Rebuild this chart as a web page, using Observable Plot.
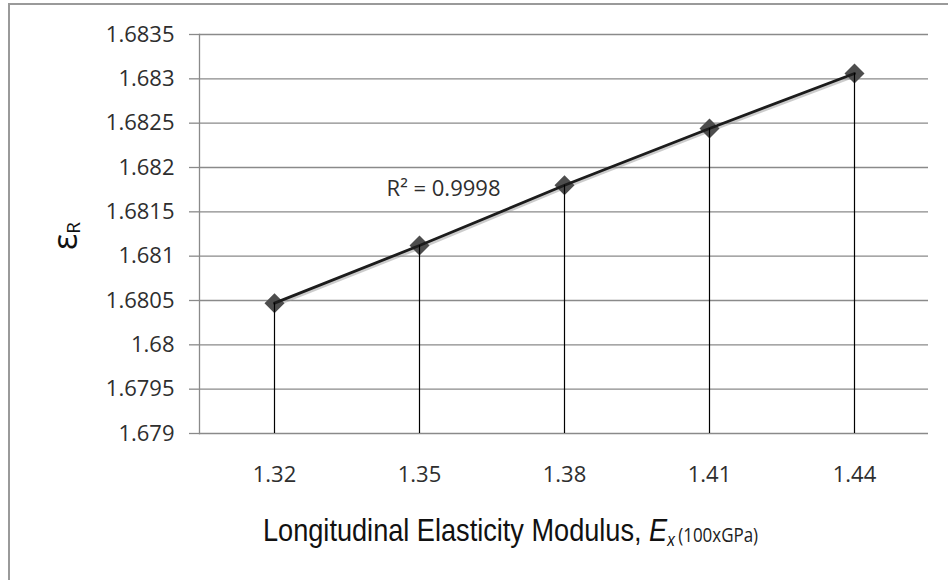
<!DOCTYPE html>
<html>
<head>
<meta charset="utf-8">
<script src="https://cdn.jsdelivr.net/npm/d3@7"></script>
<script src="https://cdn.jsdelivr.net/npm/@observablehq/plot@0.6"></script>
<style>
  html, body { margin: 0; padding: 0; background: #fff; overflow: hidden; }
  #wrap { position: relative; width: 948px; height: 580px; }
  #border { position: absolute; left: 8px; top: 3px; width: 1000px; height: 700px;
            border-left: 2px solid #9a9a9a; border-top: 2px solid #9a9a9a; box-sizing: border-box; }
  #chart { position: absolute; left: 0; top: 0; }
</style>
</head>
<body>
<div id="wrap"><div id="border"></div><div id="chart"></div></div>
<script>
// ---- data ----
const xCategories = ["1.32", "1.35", "1.38", "1.41", "1.44"];
const epsR = [1.68047, 1.68112, 1.68180, 1.68244, 1.68306];
const yTicks = [1.679, 1.6795, 1.68, 1.6805, 1.681, 1.6815, 1.682, 1.6825, 1.683, 1.6835];
const r2Label = "R\u00B2 = 0.9998";
const xTitleMain = "Longitudinal Elasticity Modulus, ";
const xTitleVar = "E";
const xTitleSub = "x";
const xTitleUnit = "(100xGPa)";
const yTitle = "\u03B5";
const yTitleSub = "R";

const data = xCategories.map((c, i) => ({x: c, y: epsR[i]}));
const yMin = yTicks[0], yMax = yTicks[yTicks.length - 1];

const font = "'Open Sans', 'Noto Sans', sans-serif";

const plot = Plot.plot({
  width: 948,
  height: 580,
  marginLeft: 199,
  marginRight: 20,
  marginTop: 34,
  marginBottom: 147,
  style: {fontFamily: font, fontSize: "22px", color: "#333", background: "transparent"},
  x: {type: "point", domain: xCategories, padding: 0.5},
  y: {domain: [yMin, yMax]},
  marks: [
    Plot.gridY(yTicks, {stroke: "#8a8a8a", strokeOpacity: 1, strokeWidth: 1.3}),
    Plot.frame({anchor: "left", stroke: "#8a8a8a", strokeWidth: 1.3}),
    Plot.axisY(yTicks, {tickSize: 10, tickPadding: 15, stroke: "#8a8a8a", strokeWidth: 1.3,
      tickFormat: d => String(d), fill: "#2e2e2e", fontSize: 22, label: null}),
    Plot.axisX({tickSize: 0, tickPadding: 33, fill: "#2e2e2e", fontSize: 22, label: null}),
    Plot.line(data, {x: "x", y: "y", stroke: "#9a9a9a", strokeWidth: 4, strokeOpacity: 0.5, dx: 1, dy: 1.5}),
    Plot.dot(data, {x: "x", y: "y", symbol: "diamond2", r: 9, fill: "#4d4d4d", stroke: "none"}),
    Plot.line(data, {x: "x", y: "y", stroke: "#1c1c1c", strokeWidth: 2.8}),
    Plot.ruleX(data, {x: "x", y1: yMin, y2: "y", stroke: "#000", strokeWidth: 1.2}),
    Plot.text([r2Label], {x: () => "1.35", y: () => 1.68176, dx: 24, text: d => d,
      fontSize: 22, fill: "#2e2e2e", textAnchor: "middle"})
  ]
});

document.getElementById("chart").appendChild(plot);

const svg = d3.select(plot);
// x-axis title as one text with tspans, scaled horizontally to the reference width
const xt = svg.append("text")
  .attr("text-anchor", "start")
  .attr("font-family", "'Liberation Sans', Arial, sans-serif")
  .attr("fill", "#111");
xt.append("tspan").attr("font-size", 32).text(xTitleMain);
xt.append("tspan").attr("font-size", 32).attr("font-style", "italic").text(xTitleVar);
xt.append("tspan").attr("font-size", 18).attr("font-style", "italic").attr("dy", 5).text(xTitleSub);
xt.append("tspan").attr("font-size", 20).attr("font-family", font).attr("fill", "#222")
  .attr("dx", 4).attr("dy", -4).text(xTitleUnit);
const natural = xt.node().getComputedTextLength();
const sx = 492 / natural;
xt.attr("transform", `translate(263,541) scale(${sx},1)`);

// y-axis title
const yt = svg.append("text")
  .attr("transform", "translate(77,250) rotate(-90)")
  .attr("text-anchor", "start")
  .attr("font-family", font)
  .attr("fill", "#111");
yt.append("tspan").attr("font-size", 34).text(yTitle);
yt.append("tspan").attr("font-size", 19).attr("dy", 3).text(yTitleSub);
</script>
</body>
</html>
